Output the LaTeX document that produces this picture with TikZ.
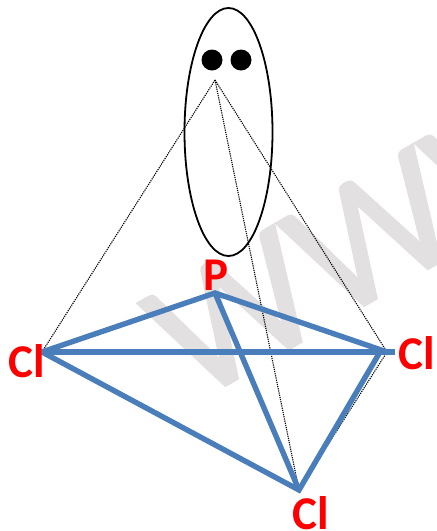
\documentclass[tikz,border=0pt]{standalone}
\usepackage{fontspec}
\usetikzlibrary{shapes.geometric}
\setmainfont{Carlito}
\newfontfamily\wmfont[FakeBold=1.2]{Carlito}
\definecolor{bondblue}{HTML}{4A7EBB}
\definecolor{wmgrey}{HTML}{E2E0E0}
\tikzset{
  x=1pt,y=-1pt,
  bond/.style={draw=bondblue,line width=5.4pt},
  guide/.style={draw=black,line width=1.1pt,dash pattern=on 1.2pt off 1pt},
  atomlabel/.style={text=red,font=\fontsize{47}{47}\selectfont\bfseries,inner sep=0pt},
  watermark/.style={text=wmgrey,font=\wmfont\fontsize{180}{180}\selectfont,inner sep=0pt,rotate=30,anchor=base west},
  pair/.style={fill=black,circle,minimum size=21pt,inner sep=0pt},
}
\begin{document}
\begin{tikzpicture}
\useasboundingbox (0,0) rectangle (437,531);
\begin{scope}
\clip (0,0) rectangle (437,531);
\node[watermark] (wm) at (194,404) {WWW};
\end{scope}
\node[draw=black,line width=1.8pt,ellipse,minimum width=88pt,minimum height=248pt,inner sep=0pt] (lobe) at (228.5,132) {};
\node[pair] (e1) at (212,60) {};
\node[pair] (e2) at (241,60) {};
\coordinate (apex) at (215,80);
\coordinate (P) at (215,293);
\coordinate (L) at (42,352);
\coordinate (R) at (387,352);
\coordinate (Rend) at (395,352);
\coordinate (B) at (299,490);
\draw[guide] (apex) -- (L);
\draw[guide] (apex) -- (R);
\draw[guide] (apex) -- (B);
\draw[guide] (R) -- (B);
\draw[bond] (L) -- (P) -- (R);
\draw[bond] (P) -- (B);
\draw[bond] (L) -- (Rend);
\draw[bond] (L) -- (B) -- (380,352);
\node[atomlabel] (lP) at (216,275) {P};
\node[atomlabel] (lL) at (27,361) {Cl};
\node[atomlabel] (lR) at (417,353) {Cl};
\node[atomlabel] (lB) at (311,513) {Cl};
\end{tikzpicture}
\end{document}
